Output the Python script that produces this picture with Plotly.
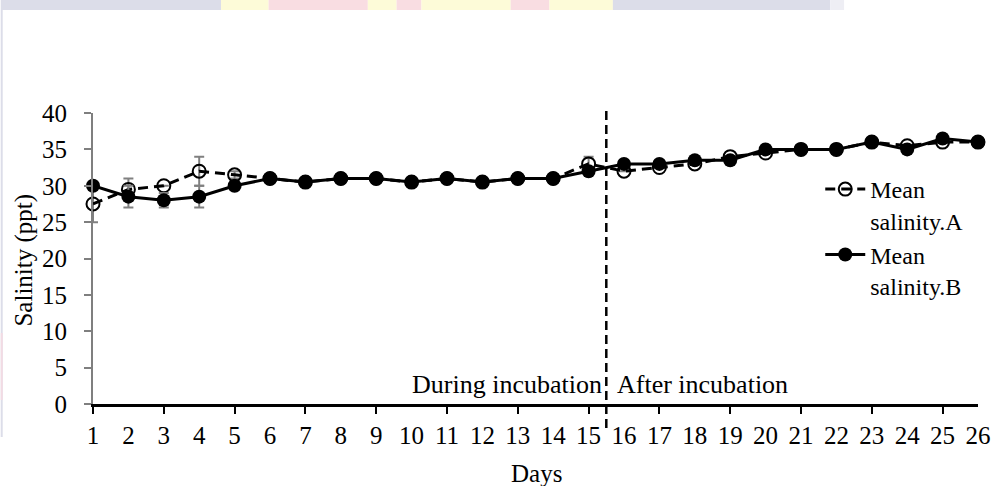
import plotly.graph_objects as go

# ---------------- data ----------------
days = list(range(1, 27))
day_labels = [str(d) for d in days]
tick_days = list(range(1, 27, 2))

salinity_a = [27.5, 29.5, 30, 32, 31.5, 31, 30.5, 31, 31, 30.5, 31, 30.5, 31, 31,
              33, 32, 32.5, 33, 34, 34.5, 35, 35, 36, 35.5, 36, 36]
salinity_b = [30, 28.5, 28, 28.5, 30, 31, 30.5, 31, 31, 30.5, 31, 30.5, 31, 31,
              32, 33, 33, 33.5, 33.5, 35, 35, 35, 36, 35, 36.5, 36]
err_a = [2.5, 1.5, None, 2, 0.5, None, None, None, None, None, None, None, None, None,
         1, None, None, None, None, None, None, None, None, None, None, None]
err_b = [None, 1.5, 1, 1.5, None, None, None, None, None, None, None, None, None, None,
         None, None, None, None, None, None, None, None, None, None, None, None]

name_a = "Mean<br>salinity.A"
name_b = "Mean<br>salinity.B"
split_day = 15.5
label_during = "During incubation"
label_after = "After incubation"
x_title = "Days"
y_title = "Salinity (ppt)"

# ---------------- layout geometry ----------------
W, H = 1003, 486
L, R, T, B = 93, 985, 113, 404
FONT = "Liberation Serif"


def px_x(p):
    return (p - L) / (R - L)


def px_y(p):
    return (B - p) / (B - T)


fig = go.Figure()

fig.add_trace(go.Scatter(
    x=days, y=salinity_a, name=name_a, mode="lines+markers",
    line=dict(color="black", width=3, dash="10px,6px"),
    marker=dict(symbol="circle-open", size=13, color="black", line=dict(width=2, color="black")),
    error_y=dict(type="data", array=err_a, visible=True, color="#808080", thickness=2, width=5),
    cliponaxis=False,
))
fig.add_trace(go.Scatter(
    x=days, y=salinity_b, name=name_b, mode="lines+markers",
    line=dict(color="black", width=3),
    marker=dict(symbol="circle", size=14, color="black"),
    error_y=dict(type="data", array=err_b, visible=True, color="#808080", thickness=2, width=5),
    cliponaxis=False,
))
# carrier for the label axis
fig.add_trace(go.Scatter(x=days, y=[None] * len(days), xaxis="x2", showlegend=False,
                         hoverinfo="skip", mode="markers"))

# watermark-like decoration at top and left edge
shapes = []
bands = [
    (0, 222, "#dcdde9"), (222, 270, "#fdfbd8"), (270, 370, "#f9dde2"), (370, 399, "#fdfbd8"),
    (399, 424, "#f9dde2"), (424, 514, "#fdfbd8"), (514, 553, "#f9dde2"), (553, 617, "#fdfbd8"),
    (617, 836, "#dcdde9"), (836, 850, "#eeeef4"),
]
for x0, x1, c in bands:
    shapes.append(dict(type="rect", xref="paper", yref="paper", x0=px_x(x0), x1=px_x(x1),
                       y0=px_y(10), y1=px_y(0), fillcolor=c, line=dict(width=0), layer="below"))
shapes.append(dict(type="rect", xref="paper", yref="paper", x0=px_x(0), x1=px_x(2),
                   y0=px_y(437), y1=px_y(10), fillcolor="#dcdde9", line=dict(width=0), layer="below"))
shapes.append(dict(type="rect", xref="paper", yref="paper", x0=px_x(0), x1=px_x(2),
                   y0=px_y(400), y1=px_y(333), fillcolor="#f3dbe3", line=dict(width=0), layer="below"))
# dashed separator
shapes.append(dict(type="line", xref="x", yref="paper", x0=split_day, x1=split_day,
                   y0=px_y(428), y1=px_y(110), line=dict(color="black", width=2.5, dash="9px,5px")))

fig.update_layout(
    width=W, height=H,
    margin=dict(l=L, r=W - R, t=T, b=H - B, pad=0),
    paper_bgcolor="white", plot_bgcolor="white",
    font=dict(family=FONT, size=25, color="black"),
    showlegend=True,
    legend=dict(x=px_x(826), y=px_y(167), xanchor="left", yanchor="top",
                bgcolor="rgba(0,0,0,0)", font=dict(family=FONT, size=24, color="black"),
                valign="top", tracegroupgap=0, itemwidth=40),
    shapes=shapes,
    xaxis=dict(range=[1, 26], tickmode="array", tickvals=tick_days, showticklabels=False,
               ticks="outside", ticklen=7, tickwidth=2, tickcolor="black",
               showline=True, linecolor="black", linewidth=2.5, showgrid=False, zeroline=False),
    xaxis2=dict(range=[1, 26], overlaying="x", anchor="y", side="bottom",
                tickmode="array", tickvals=days, ticktext=day_labels, ticks="",
                ticklabelstandoff=14, showline=False, showgrid=False, zeroline=False,
                tickfont=dict(family=FONT, size=25, color="black")),
    yaxis=dict(range=[0, 40], tickmode="linear", tick0=0, dtick=5,
               ticks="outside", ticklen=7, tickwidth=2, tickcolor="#7f7f7f",
               showline=True, linecolor="#7f7f7f", linewidth=2, showgrid=False, zeroline=False,
               ticklabelstandoff=12, tickfont=dict(family=FONT, size=25, color="black")),
    annotations=[
        dict(text=label_during, xref="x", yref="paper", x=split_day, y=px_y(384),
             xanchor="right", yanchor="middle", xshift=-2, showarrow=False,
             font=dict(family=FONT, size=26, color="black")),
        dict(text=label_after, xref="x", yref="paper", x=split_day, y=px_y(384),
             xanchor="left", yanchor="middle", xshift=9, showarrow=False,
             font=dict(family=FONT, size=26, color="black")),
        dict(text=x_title, xref="paper", yref="paper", x=px_x(540), y=px_y(473),
             xanchor="center", yanchor="middle", showarrow=False,
             font=dict(family=FONT, size=25, color="black")),
        dict(text=y_title, xref="paper", yref="paper", x=px_x(23), y=px_y(260),
             xanchor="center", yanchor="middle", textangle=-90, showarrow=False,
             font=dict(family=FONT, size=25, color="black")),
    ],
)

fig.write_html("out.html")
